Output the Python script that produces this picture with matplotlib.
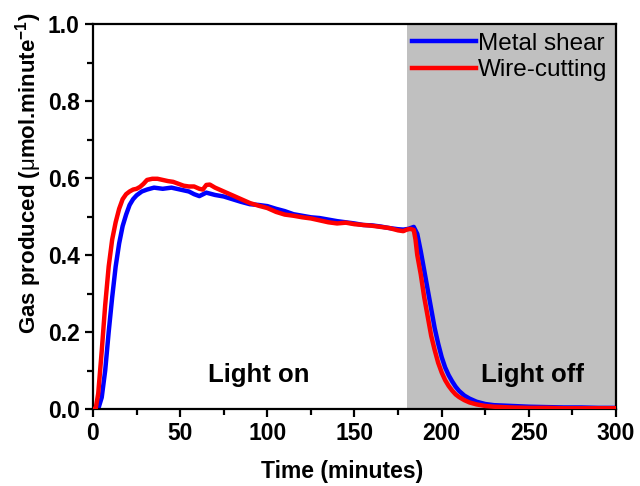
import numpy as np
import matplotlib
matplotlib.use('Agg')
import matplotlib.pyplot as plt

plt.rcParams['font.family'] = ['Liberation Sans', 'DejaVu Sans']
plt.rcParams['mathtext.fontset'] = 'custom'
plt.rcParams['mathtext.rm'] = 'Liberation Sans:bold'
plt.rcParams['mathtext.bf'] = 'Liberation Sans:bold'
plt.rcParams['mathtext.it'] = 'Liberation Sans'

# Metal shear (blue)
t_metal = [0, 3, 5, 7, 9, 11, 13, 15, 17, 19, 21, 23, 25, 28, 31, 35, 40, 45, 50, 55,
           58, 61, 65, 70, 75, 80, 85, 90, 95, 100, 105, 110, 115, 120, 125, 130, 135,
           140, 145, 150, 155, 160, 165, 170, 175, 178, 181, 184, 186, 188, 190, 192,
           194, 196, 198, 200, 202, 204, 206, 208, 210, 213, 216, 220, 225, 230, 240,
           250, 260, 270, 280, 290, 300]
v_metal = [0, 0, 0.03, 0.10, 0.20, 0.29, 0.37, 0.43, 0.475, 0.505, 0.53, 0.545, 0.555,
           0.565, 0.57, 0.575, 0.572, 0.575, 0.57, 0.565, 0.558, 0.553, 0.562, 0.556,
           0.552, 0.545, 0.538, 0.532, 0.53, 0.527, 0.52, 0.514, 0.506, 0.502, 0.498,
           0.496, 0.492, 0.488, 0.485, 0.482, 0.478, 0.477, 0.474, 0.47, 0.467, 0.466,
           0.468, 0.473, 0.455, 0.41, 0.36, 0.31, 0.26, 0.21, 0.17, 0.135, 0.108, 0.088,
           0.072, 0.058, 0.047, 0.035, 0.027, 0.019, 0.013, 0.010, 0.008, 0.006, 0.005,
           0.004, 0.004, 0.003, 0.003]

# Wire-cutting (red)
t_wire = [0, 1.5, 3, 5, 7, 9, 11, 13, 15, 17, 19, 21, 23, 25, 27, 29, 31, 34, 37, 40,
          43, 46, 49, 52, 55, 58, 61, 63, 65, 67, 70, 75, 80, 85, 90, 95, 100, 105, 110,
          115, 120, 125, 130, 135, 140, 145, 150, 155, 160, 165, 170, 175, 178, 180,
          182, 184, 185, 186, 188, 190, 192, 194, 196, 198, 200, 202, 204, 206, 208,
          210, 213, 216, 220, 225, 230, 240, 250, 260, 270, 280, 290, 300]
v_wire = [0, 0, 0.04, 0.15, 0.27, 0.37, 0.44, 0.485, 0.52, 0.545, 0.558, 0.565, 0.57,
          0.572, 0.577, 0.585, 0.595, 0.598, 0.598, 0.595, 0.592, 0.59, 0.585, 0.58,
          0.578, 0.578, 0.572, 0.57, 0.582, 0.583, 0.575, 0.565, 0.555, 0.545, 0.535,
          0.528, 0.522, 0.512, 0.505, 0.502, 0.498, 0.495, 0.49, 0.485, 0.482, 0.484,
          0.48, 0.478, 0.476, 0.473, 0.47, 0.464, 0.462, 0.466, 0.468, 0.465, 0.44,
          0.40, 0.35, 0.29, 0.24, 0.19, 0.153, 0.12, 0.095, 0.075, 0.06, 0.048, 0.038,
          0.031, 0.023, 0.017, 0.012, 0.008, 0.006, 0.004, 0.003, 0.003, 0.002, 0.002,
          0.002, 0.002]

light_off_start = 180
x_ticks = [0, 50, 100, 150, 200, 250, 300]
y_ticks = [0.0, 0.2, 0.4, 0.6, 0.8, 1.0]

fig = plt.figure(figsize=(6.4, 4.86), dpi=100)
ax = fig.add_axes([0.1453, 0.1584, 0.8172, 0.7922])

# grey shading for dark period
ax.axvspan(light_off_start, 300, color='#c0c0c0', lw=0, zorder=0)

ax.plot(t_metal, v_metal, color='#0000ff', lw=3.2, label='Metal shear', zorder=2)
ax.plot(t_wire, v_wire, color='#ff0000', lw=3.2, label='Wire-cutting', zorder=3)

ax.set_xlim(0, 300)
ax.set_ylim(0, 1.0)
ax.set_xticks(x_ticks)
ax.set_yticks(y_ticks)
ax.set_xticks([25, 75, 125, 175, 225, 275], minor=True)
ax.set_yticks([0.1, 0.3, 0.5, 0.7, 0.9], minor=True)
ax.set_yticklabels(['%.1f' % v for v in y_ticks])
ax.tick_params(which='major', direction='out', length=6, width=1.6,
               labelsize=16.5, top=False, right=False)
ax.tick_params(which='minor', direction='out', length=4, width=1.6,
               top=False, right=False)
for lab in ax.get_xticklabels() + ax.get_yticklabels():
    lab.set_fontweight('bold')
for s in ax.spines.values():
    s.set_linewidth(1.6)

ax.set_xlabel('Time (minutes)', fontsize=16.5, fontweight='bold')
ax.set_ylabel(r'Gas produced ($\mathit{\mu}$mol.minute$^{-1}$)', fontsize=16,
              fontweight='bold')
ax.xaxis.set_label_coords(0.476, -0.133)
ax.yaxis.set_label_coords(-0.093, 0.612)

ax.text(95, 0.07, 'Light on', fontsize=18.5, fontweight='bold', ha='center', va='baseline')
ax.text(252, 0.07, 'Light off', fontsize=18.5, fontweight='bold', ha='center', va='baseline')

ax.legend(loc='upper right', frameon=False, fontsize=17.5, handlelength=2.6,
          handletextpad=0.1, labelspacing=0.2, borderaxespad=0.2, borderpad=0.15)

fig.savefig('out.png', dpi=100)
